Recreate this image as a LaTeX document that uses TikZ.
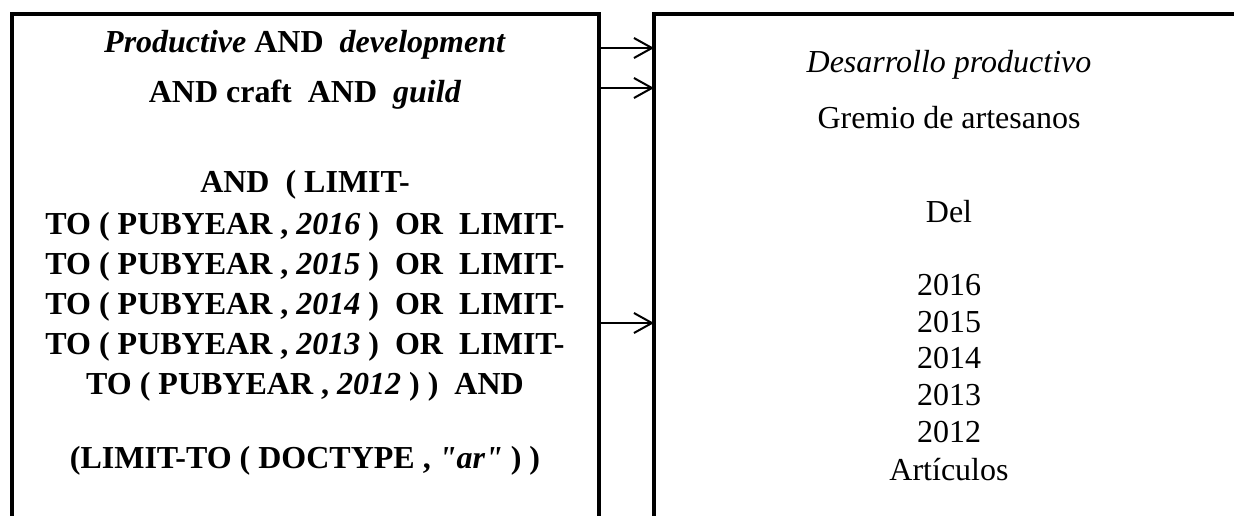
\documentclass[tikz,border=0pt]{standalone}
\usepackage{fontspec}
\setmainfont{Liberation Serif}[Ligatures=TeXOff]
\usetikzlibrary{arrows.meta}
\tikzset{
	box/.style={
		draw, rectangle, line width=4pt,
		outer sep=0pt, inner sep=0pt, anchor=north west
	},
	query/.style={
		anchor=base, inner sep=0pt,
		font=\fontsize{32}{38}\selectfont\bfseries
	},
	result/.style={
		anchor=base, inner sep=0pt,
		font=\fontsize{32}{38}\selectfont
	},
	link/.style={-{Straight Barb[length=18pt,width=20pt]}, line width=2pt}
}
\begin{document}
\begin{tikzpicture}[x=1pt,y=-1pt]
	\useasboundingbox (0,0) rectangle (1234,515);
	\clip (0,0) rectangle (1234,515);
	% the two boxes, open at the bottom of the page
	\node[box, minimum width=587pt, minimum height=560pt] (Q) at (12,14) {};
	\node[box, minimum width=640pt, minimum height=560pt] (R) at (654,14) {};
	% search string
	\node[query] (Q1) at (305,52) {\textit{Productive} AND\ \ \textit{development}};
	\node[query] (Q2) at (305,102) {AND craft\ \ AND\ \ \textit{guild}};
	\node[query] (Q3) at (305,192) {AND\ \ ( LIMIT-};
	\foreach \yr/\yy in {2016/234,2015/274,2014/314,2013/354}
		\node[query] (Q\yr) at (305,\yy) {TO ( PUBYEAR , \textit{\yr} )\ \ OR\ \ LIMIT-};
	\node[query] (Q2012) at (305,394) {TO ( PUBYEAR , \textit{2012} ) )\ \ AND};
	\node[query] (Q9) at (305,468) {(LIMIT-TO ( DOCTYPE , \textit{"ar"} ) )};
	% translation
	\node[result] (R1) at (949,72) {\textit{Desarrollo productivo}};
	\node[result] (R2) at (949,128) {Gremio de artesanos};
	\node[result] (R3) at (949,222) {Del};
	\foreach \yr/\yy in {2016/295,2015/332,2014/368,2013/405,2012/442}
		\node[result] (R\yr) at (949,\yy) {\yr};
	\node[result] (R9) at (949,480) {Artículos};
	% arrows between the boxes
	\draw[link] ([yshift=-34pt]Q.north east) -- ([yshift=-34pt]R.north west);
	\draw[link] ([yshift=-74pt]Q.north east) -- ([yshift=-74pt]R.north west);
	\draw[link] ([yshift=-309pt]Q.north east) -- ([yshift=-309pt]R.north west);
\end{tikzpicture}
\end{document}
